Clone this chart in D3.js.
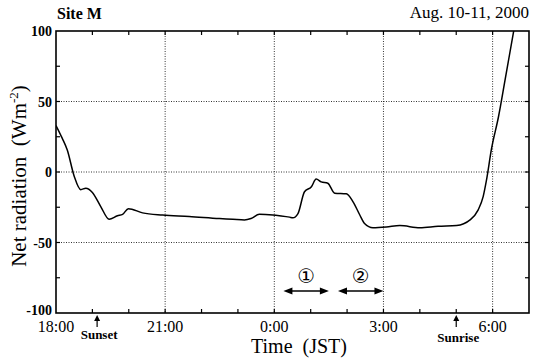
<!DOCTYPE html>
<html>
<head>
<meta charset="utf-8">
<script src="https://cdn.jsdelivr.net/npm/d3@7"></script>
<style>
  body { margin: 0; background: #fff; }
  text { font-family: "Liberation Serif", "DejaVu Serif", serif; fill: #000; }
</style>
</head>
<body>
<div id="chart"></div>
<script>
// hours after 18:00 (Aug. 10) and net radiation (W m-2)
const hours = [0, 0.17, 0.31, 0.5, 0.68, 0.82, 1.0, 1.23, 1.46, 1.69, 1.83, 1.99, 2.38, 2.93,
  3.66, 4.49, 4.86, 5.18, 5.36, 5.59, 5.96, 6.14, 6.42, 6.51, 6.65, 6.83, 7.02, 7.15, 7.29,
  7.47, 7.66, 7.98, 8.16, 8.35, 8.48, 8.71, 9.08, 9.45, 10.0, 10.5, 11.01, 11.38, 11.6,
  11.74, 11.83, 11.97, 12.16, 12.34, 12.6];
const netRad = [33, 24, 15.6, -3, -12.5, -11.5, -14.5, -24.5, -33.5, -31, -30, -26, -29, -30.5,
  -31.5, -33, -33.5, -34, -33, -30, -30.5, -31, -32, -32.5, -29.5, -14, -10.5, -5, -7,
  -8, -15, -15.5, -21, -30.5, -36.5, -39.5, -39, -38, -39.5, -38.5, -38, -34, -27,
  -17.5, -6, 16.5, 39, 65, 103];
const tickHours = [0, 3, 6, 9, 12];
const tickLabels = ['18:00', '21:00', '0:00', '3:00', '6:00'];
const yTicks = [-100, -50, 0, 50, 100];
const periods = [{ name: '\u2460', from: 6.25, to: 7.5 }, { name: '\u2461', from: 7.75, to: 9.0 }];
const events = [{ name: 'Sunset', at: 1.13, dx: 2, dy: 26 }, { name: 'Sunrise', at: 11.0, dx: 2, dy: 29 }];

const width = 542, height = 359;
const margin = { top: 31, right: 13, bottom: 46, left: 56 };

const svg = d3.select('#chart').append('svg')
  .attr('width', width)
  .attr('height', height);

const x = d3.scaleLinear().domain([0, 13]).range([margin.left, width - margin.right]);
const y = d3.scaleLinear().domain([-100, 100]).range([height - margin.bottom, margin.top]);

// dotted grid
const grid = svg.append('g').attr('stroke', '#000').attr('stroke-width', 0.8)
  .attr('stroke-dasharray', '1,1.5');
grid.selectAll('.vg').data(tickHours.slice(1)).enter().append('line')
  .attr('x1', d => x(d)).attr('x2', d => x(d))
  .attr('y1', y(100)).attr('y2', y(-100));
grid.selectAll('.hg').data([-50, 0, 50]).enter().append('line')
  .attr('x1', x(0)).attr('x2', x(13))
  .attr('y1', d => y(d)).attr('y2', d => y(d));

// inward minor ticks on all four sides
const ticks = svg.append('g').attr('stroke', '#000').attr('stroke-width', 1.2);
const hourTicks = d3.range(1, 13);
ticks.selectAll('.tb').data(hourTicks).enter().append('line')
  .attr('x1', d => x(d)).attr('x2', d => x(d))
  .attr('y1', y(-100)).attr('y2', y(-100) - 4);
ticks.selectAll('.tt').data(hourTicks).enter().append('line')
  .attr('x1', d => x(d)).attr('x2', d => x(d))
  .attr('y1', y(100)).attr('y2', y(100) + 4);
const valTicks = d3.range(-75, 100, 25);
ticks.selectAll('.tl').data(valTicks).enter().append('line')
  .attr('x1', x(0)).attr('x2', x(0) + 4)
  .attr('y1', d => y(d)).attr('y2', d => y(d));
ticks.selectAll('.tr').data(valTicks).enter().append('line')
  .attr('x1', x(13)).attr('x2', x(13) - 4)
  .attr('y1', d => y(d)).attr('y2', d => y(d));

// frame
svg.append('rect')
  .attr('x', x(0)).attr('y', y(100))
  .attr('width', x(13) - x(0)).attr('height', y(-100) - y(100))
  .attr('fill', 'none').attr('stroke', '#000').attr('stroke-width', 1.6);

// curve
svg.append('clipPath').attr('id', 'clip').append('rect')
  .attr('x', x(0)).attr('y', y(100))
  .attr('width', x(13) - x(0)).attr('height', y(-100) - y(100));
const line = d3.line().x(d => x(d[0])).y(d => y(d[1])).curve(d3.curveMonotoneX);
svg.append('path')
  .datum(d3.zip(hours, netRad))
  .attr('clip-path', 'url(#clip)')
  .attr('fill', 'none').attr('stroke', '#000').attr('stroke-width', 1.5)
  .attr('d', line);

// axis labels
svg.selectAll('.xl').data(tickHours).enter().append('text')
  .attr('x', d => x(d)).attr('y', y(-100) + 19)
  .attr('text-anchor', 'middle').attr('font-size', 16)
  .text((d, i) => tickLabels[i]);
svg.selectAll('.yl').data(yTicks).enter().append('text')
  .attr('x', x(0) - 4).attr('y', d => y(d) + (d === -100 ? 2 : 5))
  .attr('text-anchor', 'end').attr('font-size', 14).attr('font-weight', 'bold')
  .text(d => d);

svg.append('text')
  .attr('x', 299).attr('y', height - 6)
  .attr('text-anchor', 'middle').attr('font-size', 20)
  .attr('xml:space', 'preserve')
  .text('Time  (JST)');

const yt = svg.append('text')
  .attr('transform', `translate(26, 176) rotate(-90)`)
  .attr('text-anchor', 'middle').attr('font-size', 21)
  .attr('xml:space', 'preserve');
yt.append('tspan').text('Net radiation  (Wm');
yt.append('tspan').attr('font-size', 13).attr('dy', -8).text('-2');
yt.append('tspan').attr('dy', 8).text(')');

svg.append('text')
  .attr('x', x(0) + 1).attr('y', 19)
  .attr('font-size', 16).attr('font-weight', 'bold')
  .text('Site M');
svg.append('text')
  .attr('x', x(13)).attr('y', 18)
  .attr('text-anchor', 'end').attr('font-size', 17)
  .text('Aug. 10-11, 2000');

// sunset / sunrise markers
const ev = svg.selectAll('.ev').data(events).enter().append('g');
ev.append('line')
  .attr('x1', d => x(d.at)).attr('x2', d => x(d.at))
  .attr('y1', y(-100) + 6).attr('y2', y(-100) + 14)
  .attr('stroke', '#000').attr('stroke-width', 1.2);
ev.append('path')
  .attr('d', d => `M${x(d.at)},${y(-100) + 2}l-3,6h6z`)
  .attr('fill', '#000');
ev.append('text')
  .attr('x', d => x(d.at) + d.dx).attr('y', d => y(-100) + d.dy)
  .attr('text-anchor', 'middle').attr('font-size', 13).attr('font-weight', 'bold')
  .text(d => d.name);

// measurement period arrows
const ay = y(-100) - 22;
const pg = svg.selectAll('.pd').data(periods).enter().append('g');
pg.append('line')
  .attr('x1', d => x(d.from) + 4).attr('x2', d => x(d.to) - 4)
  .attr('y1', ay).attr('y2', ay)
  .attr('stroke', '#000').attr('stroke-width', 1.4);
pg.append('path')
  .attr('d', d => `M${x(d.from)},${ay}l9,-3.5v7z M${x(d.to)},${ay}l-9,-3.5v7z`)
  .attr('fill', '#000');
pg.append('text')
  .attr('x', d => (x(d.from) + x(d.to)) / 2).attr('y', ay - 8)
  .attr('text-anchor', 'middle').attr('font-size', 20)
  .style('font-family', '"DejaVu Sans", sans-serif')
  .text(d => d.name);
</script>
</body>
</html>
